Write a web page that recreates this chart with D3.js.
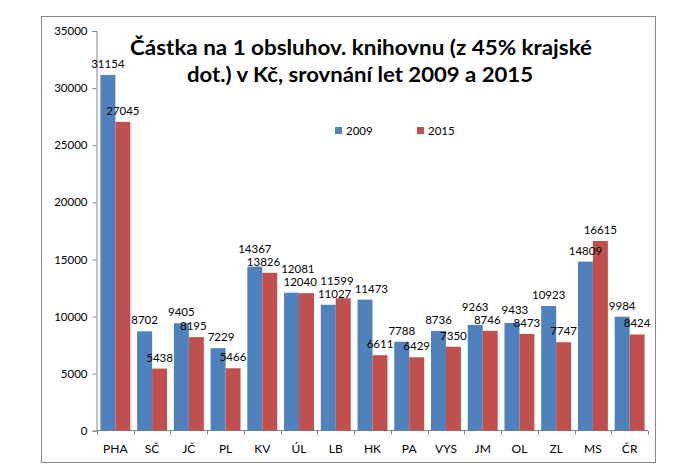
<!DOCTYPE html>
<html><head><meta charset="utf-8">
<script src="https://cdn.jsdelivr.net/npm/d3@7"></script>
<style>body{margin:0;background:#fff}svg{display:block}</style>
</head><body>
<script>
const categories = ["PHA","SČ","JČ","PL","KV","ÚL","LB","HK","PA","VYS","JM","OL","ZL","MS","ČR"];
const values2009 = [31154,8702,9405,7229,14367,12081,11027,11473,7788,8736,9263,9433,10923,14809,9984];
const values2015 = [27045,5438,8195,5466,13826,12040,11599,6611,6429,7350,8746,8473,7747,16615,8424];
const seriesNames = ["2009","2015"];
const yTicks = [0,5000,10000,15000,20000,25000,30000,35000];
const titleLines = ["Částka na 1 obsluhov. knihovnu (z 45% krajské","dot.) v Kč, srovnání let 2009 a 2015"];

const W=693,H=476;
const colors=["#4F81BD","#C0504D"];
const font="Lato, 'Open Sans', sans-serif";
const fs=11.5;
const svg=d3.select("body").append("svg").attr("width",W).attr("height",H);

// outer frame
svg.append("rect").attr("x",41.5).attr("y",16.5).attr("width",614).attr("height",446)
  .attr("fill","#fff").attr("stroke","#868686").attr("stroke-width",1);

const x0=d3.scaleBand().domain(categories).range([97,648]).paddingInner(0).paddingOuter(0);
const x1=d3.scaleBand().domain(seriesNames).range([0,x0.bandwidth()]).paddingInner(0).paddingOuter(0.2273);
const y=d3.scaleLinear().domain([0,35000]).range([430.7,31]);

// y axis
const yAxis=d3.axisLeft(y).tickValues(yTicks).tickSize(4).tickPadding(5).tickFormat(d3.format("d"));
const gy=svg.append("g").attr("transform","translate(96.5,0)").call(yAxis);
gy.select(".domain").attr("stroke","#868686");
gy.selectAll(".tick line").attr("stroke","#868686");
gy.selectAll("text").attr("font-family",font).attr("font-size",fs).attr("fill","#000");

// x axis
const gx=svg.append("g").attr("transform","translate(0,430.5)");
gx.append("line").attr("x1",97).attr("x2",648).attr("stroke","#868686");
const tickPos=categories.map(c=>x0(c)).concat([x0(categories[categories.length-1])+x0.bandwidth()]);
gx.selectAll("line.t").data(tickPos).join("line").attr("class","t")
  .attr("x1",d=>Math.round(d)+0.5).attr("x2",d=>Math.round(d)+0.5).attr("y1",0).attr("y2",4).attr("stroke","#868686");
gx.selectAll("text.cat").data(categories).join("text").attr("class","cat")
  .attr("x",d=>x0(d)+x0.bandwidth()/2).attr("y",22)
  .attr("text-anchor","middle").attr("font-family",font).attr("font-size",fs+0.5).attr("fill","#000").text(d=>d);

// bars
const data=categories.map((c,i)=>({c,vals:[{s:"2009",v:values2009[i]},{s:"2015",v:values2015[i]}]}));
const g=svg.append("g");
data.forEach(d=>{
  d.vals.forEach((e,j)=>{
    g.append("rect").attr("x",x0(d.c)+x1(e.s)).attr("width",x1.bandwidth())
      .attr("y",y(e.v)).attr("height",y(0)-y(e.v)).attr("fill",colors[j]);
  });
});

// data labels with simple collision handling (Excel-like)
const LH=13;
const labels=[];
const lg0=svg.append("g");
data.forEach((d,gi)=>{
  d.vals.forEach((e,j)=>{
    const t=lg0.append("text").attr("text-anchor","middle").attr("font-family",font)
      .attr("font-size",fs).attr("fill","#000").text(e.v);
    labels.push({t,gi,j,v:e.v,x:x0(d.c)+x1(e.s)+x1.bandwidth()/2,b:y(e.v)-7,w:t.node().getComputedTextLength()});
  });
});
const hov=(a,b)=>Math.abs(a.x-b.x)<(a.w+b.w)/2;
// within group: stack the taller bar's label above the other
for(let gi=0;gi<categories.length;gi++){
  const a=labels[gi*2],b=labels[gi*2+1];
  if(Math.abs(a.b-b.b)<LH && hov(a,b)){
    if(a.v>=b.v) a.b=b.b-LH; else b.b=a.b-LH;
  }
}
// across adjacent groups: push apart horizontally
for(let gi=0;gi<categories.length-1;gi++){
  const a=labels[gi*2+1],b=labels[gi*2+2];
  if(Math.abs(a.b-b.b)<LH && hov(a,b)){
    const ov=(a.w+b.w)/2-Math.abs(a.x-b.x)+1;
    a.x-=ov/2; b.x+=ov/2;
  }
}
labels.forEach(l=>l.t.attr("x",l.x).attr("y",l.b));

// title
const tl=[[361,55,462],[360,82,346]];
svg.selectAll("text.title").data(titleLines).join("text").attr("class","title")
  .attr("x",(d,i)=>tl[i][0]).attr("y",(d,i)=>tl[i][1])
  .attr("text-anchor","middle").attr("font-family",font).attr("font-weight","bold").attr("font-size",21)
  .attr("textLength",(d,i)=>tl[i][2]).attr("lengthAdjust","spacingAndGlyphs")
  .attr("fill","#000").text(d=>d);

// legend
const lg=svg.append("g");
const lx=[335,417];
seriesNames.forEach((s,i)=>{
  lg.append("rect").attr("x",lx[i]).attr("y",127).attr("width",7).attr("height",7).attr("fill",colors[i]);
  lg.append("text").attr("x",lx[i]+11).attr("y",135).attr("font-family",font).attr("font-size",fs).attr("fill","#000").text(s);
});
</script>
</body></html>
